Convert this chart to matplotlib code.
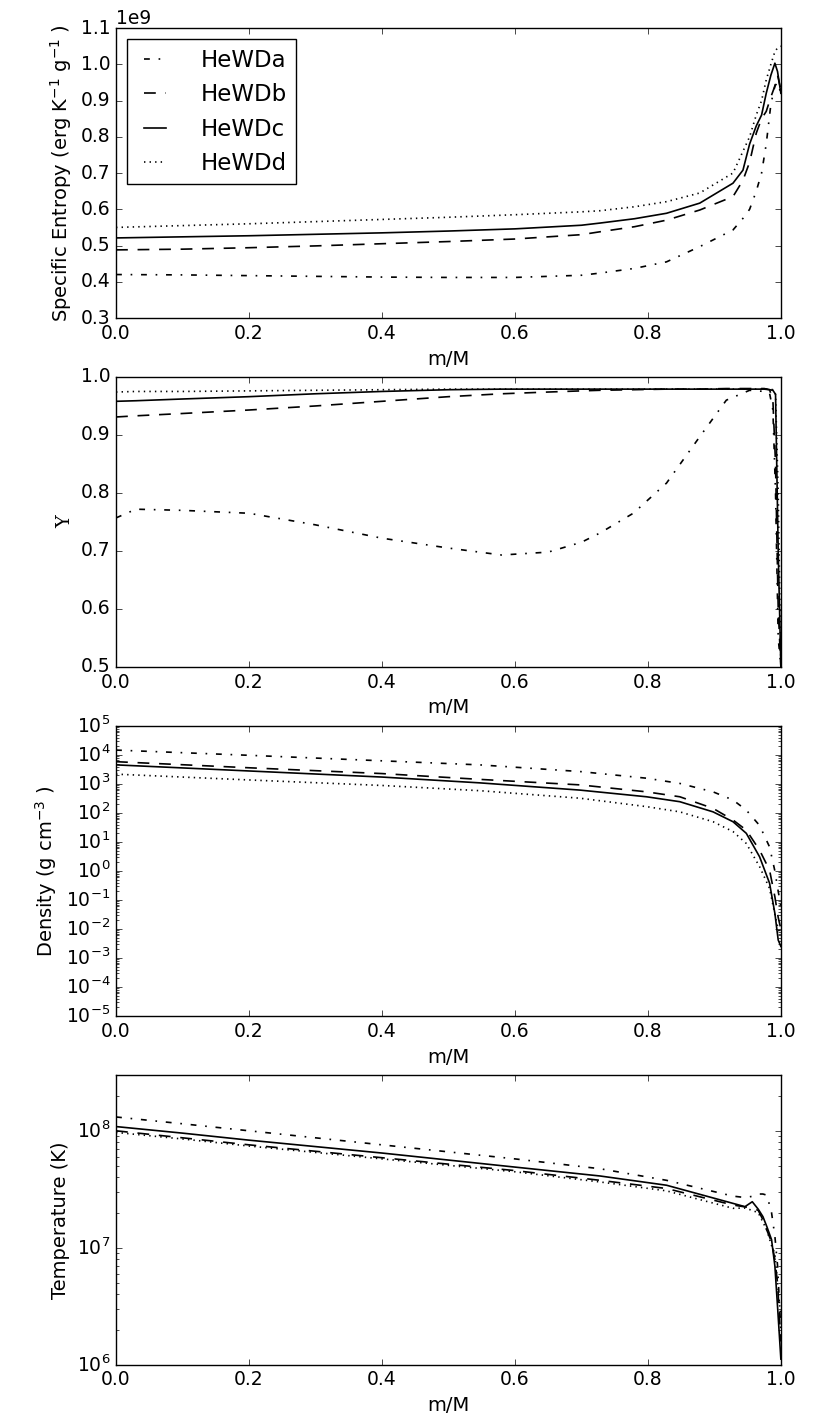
import matplotlib
matplotlib.use('Agg')
import matplotlib.pyplot as plt
import numpy as np

plt.style.use('classic')
plt.rcParams['figure.facecolor'] = 'white'
plt.rcParams['savefig.facecolor'] = 'white'
plt.rcParams['font.size'] = 13.5
plt.rcParams['axes.labelsize'] = 14
plt.rcParams['mathtext.fontset'] = 'dejavusans'
plt.rcParams['mathtext.default'] = 'regular'

names = ['HeWDa', 'HeWDb', 'HeWDc', 'HeWDd']
# dash patterns for the four models: dash-dot, dashed, solid, dotted
dash_list = [(4.2, 6.3, 1.2, 6.3), (8.5, 7.0), None, (1.0, 3.0)]

# specific entropy (units of 1e9 erg/K/g)
m_s = [0.0, 0.1, 0.2, 0.3, 0.4, 0.5, 0.6, 0.7, 0.728, 0.78, 0.828, 0.878, 0.928, 0.943, 0.953,
       0.963, 0.971, 0.978, 0.985, 0.991, 0.995, 1.0]
s_a = [0.42, 0.419, 0.417, 0.415, 0.413, 0.412, 0.412, 0.418, 0.424, 0.437, 0.455, 0.497, 0.543, 0.575,
       0.60, 0.65, 0.70, 0.78, 0.89, 0.94, 0.95, 0.92]
s_b = [0.488, 0.490, 0.494, 0.499, 0.505, 0.511, 0.518, 0.530, 0.538, 0.552, 0.570, 0.598, 0.635, 0.68,
       0.73, 0.81, 0.85, 0.87, 0.91, 0.94, 0.97, 0.93]
s_c = [0.521, 0.524, 0.527, 0.531, 0.535, 0.540, 0.546, 0.556, 0.562, 0.574, 0.589, 0.617, 0.672, 0.708,
       0.78, 0.83, 0.86, 0.92, 0.97, 1.003, 0.98, 0.92]
s_d = [0.550, 0.555, 0.560, 0.566, 0.572, 0.578, 0.585, 0.593, 0.596, 0.607, 0.621, 0.645, 0.700, 0.76,
       0.80, 0.86, 0.90, 0.957, 1.00, 1.035, 1.045, 1.05]

# helium mass fraction
m_y = [0.0, 0.03, 0.1, 0.2, 0.3, 0.4, 0.5, 0.58, 0.65, 0.7, 0.728, 0.778, 0.828, 0.878, 0.918, 0.953,
       0.975, 0.983, 0.988, 0.992, 0.996, 1.0]
y_a = [0.757, 0.772, 0.770, 0.765, 0.745, 0.722, 0.705, 0.693, 0.698, 0.715, 0.731, 0.765, 0.817, 0.897,
       0.96, 0.977, 0.975, 0.972, 0.943, 0.80, 0.55, 0.5]
y_b = [0.931, 0.933, 0.937, 0.943, 0.950, 0.958, 0.966, 0.971, 0.974, 0.976, 0.977, 0.978, 0.979, 0.979,
       0.98, 0.98, 0.98, 0.978, 0.96, 0.85, 0.6, 0.5]
y_c = [0.958, 0.959, 0.962, 0.966, 0.971, 0.975, 0.978, 0.979, 0.979, 0.979, 0.979, 0.979, 0.979, 0.979,
       0.979, 0.979, 0.979, 0.978, 0.977, 0.97, 0.7, 0.5]
y_d = [0.974, 0.975, 0.975, 0.976, 0.977, 0.978, 0.979, 0.979, 0.979, 0.979, 0.979, 0.979, 0.979, 0.979,
       0.979, 0.979, 0.979, 0.979, 0.978, 0.97, 0.8, 0.5]

# log10 density (g/cm^3)
m_rho = [0.0, 0.2, 0.4, 0.547, 0.698, 0.798, 0.848, 0.898, 0.928, 0.948, 0.968, 0.983, 0.991, 0.996, 1.0]
rho_a = [4.17, 3.99, 3.80, 3.66, 3.43, 3.20, 3.02, 2.73, 2.45, 2.10, 1.57, 0.83, 0.0, -0.7, -1.2]
rho_b = [3.77, 3.56, 3.36, 3.16, 2.97, 2.73, 2.56, 2.16, 1.76, 1.41, 0.72, 0.03, -0.89, -1.6, -2.0]
rho_c = [3.66, 3.45, 3.24, 3.04, 2.79, 2.56, 2.39, 2.04, 1.70, 1.30, 0.49, -0.42, -1.46, -2.38, -2.6]
rho_d = [3.34, 3.14, 2.95, 2.77, 2.51, 2.22, 2.04, 1.70, 1.36, 0.95, 0.15, -0.6, -1.5, -2.0, -2.2]

# log10 temperature (K)
m_t = [0.0, 0.1, 0.2, 0.4, 0.6, 0.728, 0.828, 0.928, 0.946, 0.957, 0.966, 0.973, 0.979, 0.986, 0.991,
       0.995, 1.0]
t_a = [8.118, 8.06, 8.0, 7.88, 7.76, 7.676, 7.577, 7.442, 7.43, 7.44, 7.46, 7.46, 7.45, 7.30, 7.10,
       6.85, 6.28]
t_b = [8.0, 7.94, 7.88, 7.77, 7.66, 7.577, 7.507, 7.366, 7.35, 7.34, 7.32, 7.24, 7.15, 7.05, 6.90,
       6.70, 6.2]
t_c = [8.036, 7.98, 7.92, 7.81, 7.69, 7.614, 7.535, 7.38, 7.352, 7.394, 7.33, 7.267, 7.18, 7.07, 6.845,
       6.50, 6.05]
t_d = [7.986, 7.93, 7.87, 7.76, 7.65, 7.563, 7.487, 7.338, 7.34, 7.32, 7.30, 7.22, 7.15, 7.02, 6.95,
       6.70, 6.4]


def draw(ax, x, series, scale=None, labels=None):
    for i, vals in enumerate(series):
        y = np.array(vals)
        if scale == 'log':
            y = 10 ** y
        elif scale is not None:
            y = y * scale
        lab = labels[i] if labels else None
        line, = ax.plot(x, y, color='k', lw=1.2, label=lab)
        if dash_list[i] is not None:
            line.set_dashes(dash_list[i])


fig = plt.figure(figsize=(8.3, 14.23), dpi=100)
left, width, height = 0.1398, 0.801, 0.2038
bottoms = [0.7765, 0.5313, 0.286, 0.0408]
axs = [fig.add_axes([left, b, width, height]) for b in bottoms]

ax = axs[0]
draw(ax, m_s, [s_a, s_b, s_c, s_d], scale=1e9, labels=names)
ax.set_ylim(0.3e9, 1.1e9)
ax.set_ylabel('Specific Entropy (erg K$^{-1}$ g$^{-1}$ )')
ax.legend(loc='upper left', fontsize=16.5, handlelength=1.6, handletextpad=1.2)

ax = axs[1]
draw(ax, m_y, [y_a, y_b, y_c, y_d])
ax.set_ylim(0.5, 1.0)
ax.set_ylabel('Y', family='DejaVu Serif')

ax = axs[2]
draw(ax, m_rho, [rho_a, rho_b, rho_c, rho_d], scale='log')
ax.set_yscale('log')
ax.set_ylim(1e-5, 1e5)
ax.set_ylabel('Density (g cm$^{-3}$ )')

ax = axs[3]
draw(ax, m_t, [t_a, t_b, t_c, t_d], scale='log')
ax.set_yscale('log')
ax.set_ylim(1e6, 3e8)
ax.set_ylabel('Temperature (K)')

for ax in axs:
    ax.set_xlim(0, 1)
    ax.set_xlabel('m/M')

fig.savefig('out.png', dpi=100)
